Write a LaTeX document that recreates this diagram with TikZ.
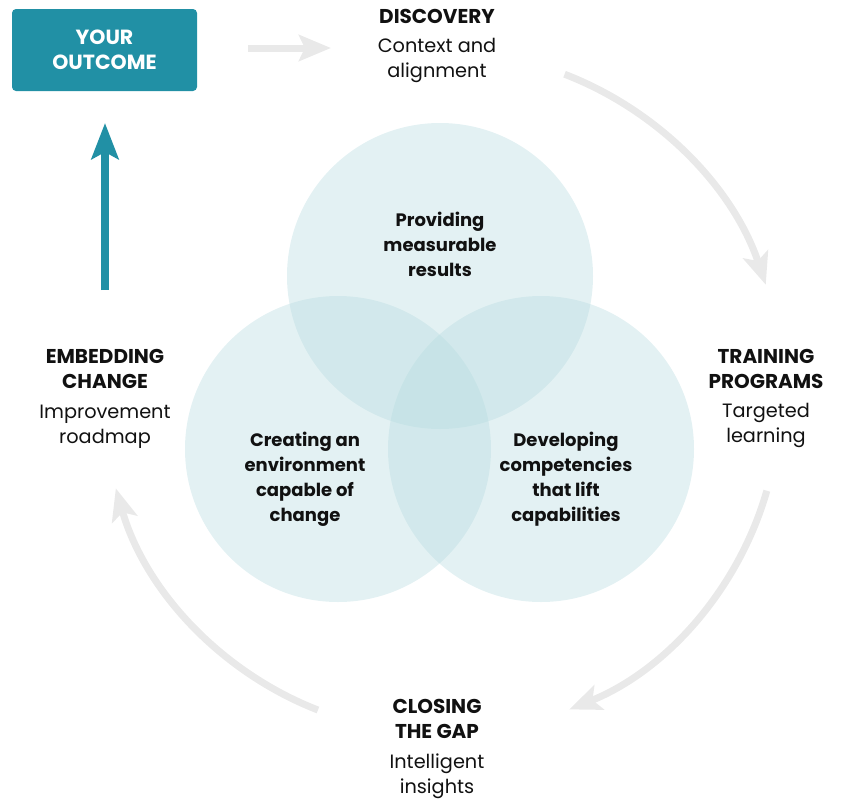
\documentclass[tikz,border=0pt]{standalone}
\usepackage{fontspec}
\setmainfont{Poppins}
\usetikzlibrary{arrows.meta}

\definecolor{tealbox}{HTML}{2190A5}
\definecolor{ringgray}{HTML}{E9E9E9}
\definecolor{venn}{RGB}{183,219,224}
\definecolor{ink}{HTML}{111111}

\tikzset{
  vennbubble/.style={fill=venn, fill opacity=0.39, draw=none},
  cycleline/.style={draw=ringgray, line width=7pt,
    -{Stealth[length=32pt, width=26pt, inset=7pt]}},
  stagehead/.style={font=\fontsize{20}{25}\selectfont\bfseries, text=ink,
    align=center, inner sep=0pt},
  stagesub/.style={font=\fontsize{19.3}{25}\selectfont, text=ink,
    align=center, inner sep=0pt},
  venntext/.style={font=\fontsize{18}{25}\selectfont\bfseries, text=ink,
    align=center, inner sep=0pt},
}

\begin{document}
\begin{tikzpicture}[x=1pt, y=-1pt]
\useasboundingbox (0,0) rectangle (841,801);

% overlapping circles
\fill[vennbubble] (440,276) circle (153);
\fill[vennbubble] (338,449) circle (153);
\fill[vennbubble] (541,449) circle (153);

\node[venntext] (vtop) at (440,244) {Providing\\measurable\\results};
\node[venntext] (vleft) at (305,479.5) {Creating an\\environment\\capable of\\change};
\node[venntext] (vright) at (566,479.5) {Developing\\competencies\\that lift\\capabilities};

% outcome box
\node[fill=tealbox, rounded corners=4pt, minimum width=185pt, minimum height=82pt,
      text=white, font=\fontsize{20.5}{25}\selectfont\bfseries, align=center,
      inner sep=0pt] (outcome) at (104.5,50) {YOUR\\OUTCOME};

% stage labels
\node[stagehead] (disc) at (437,16) {DISCOVERY};
\node[stagesub] (discsub) at (437,60.5) {Context and\\alignment};

\node[stagehead] (train) at (766,368.5) {TRAINING\\PROGRAMS};
\node[stagesub] (trainsub) at (766,425.5) {Targeted\\learning};

\node[stagehead] (embed) at (105,368.5) {EMBEDDING\\CHANGE};
\node[stagesub] (embedsub) at (105,427) {Improvement\\roadmap};

\node[stagehead] (close) at (437,718.5) {CLOSING\\THE GAP};
\node[stagesub] (closesub) at (437,776.5) {Intelligent\\insights};

% cycle connectors
\coordinate (hub) at (440,397);
\coordinate (arrowtail) at (248,48);
\coordinate (arrowtip) at (331,48);
\draw[cycleline, -{Stealth[length=32pt, width=26pt, inset=6pt]}] (arrowtail) -- (arrowtip);

\draw[cycleline] (hub) ++(-68.9:346) arc[start angle=-68.9, end angle=-18.5, radius=342];
\draw[cycleline] (hub) ++(16:340) arc[start angle=16, end angle=68.2, radius=335];
\draw[cycleline] (hub) ++(111.3:336) arc[start angle=111.3, end angle=164, radius=338];

% upward arrow to the outcome
\coordinate (upfoot) at (105,290);
\coordinate (uptip) at (105,123);
\draw[draw=tealbox, line width=8pt,
      -{Stealth[length=36pt, width=27pt, inset=7pt]}] (upfoot) -- (uptip);
\end{tikzpicture}
\end{document}
